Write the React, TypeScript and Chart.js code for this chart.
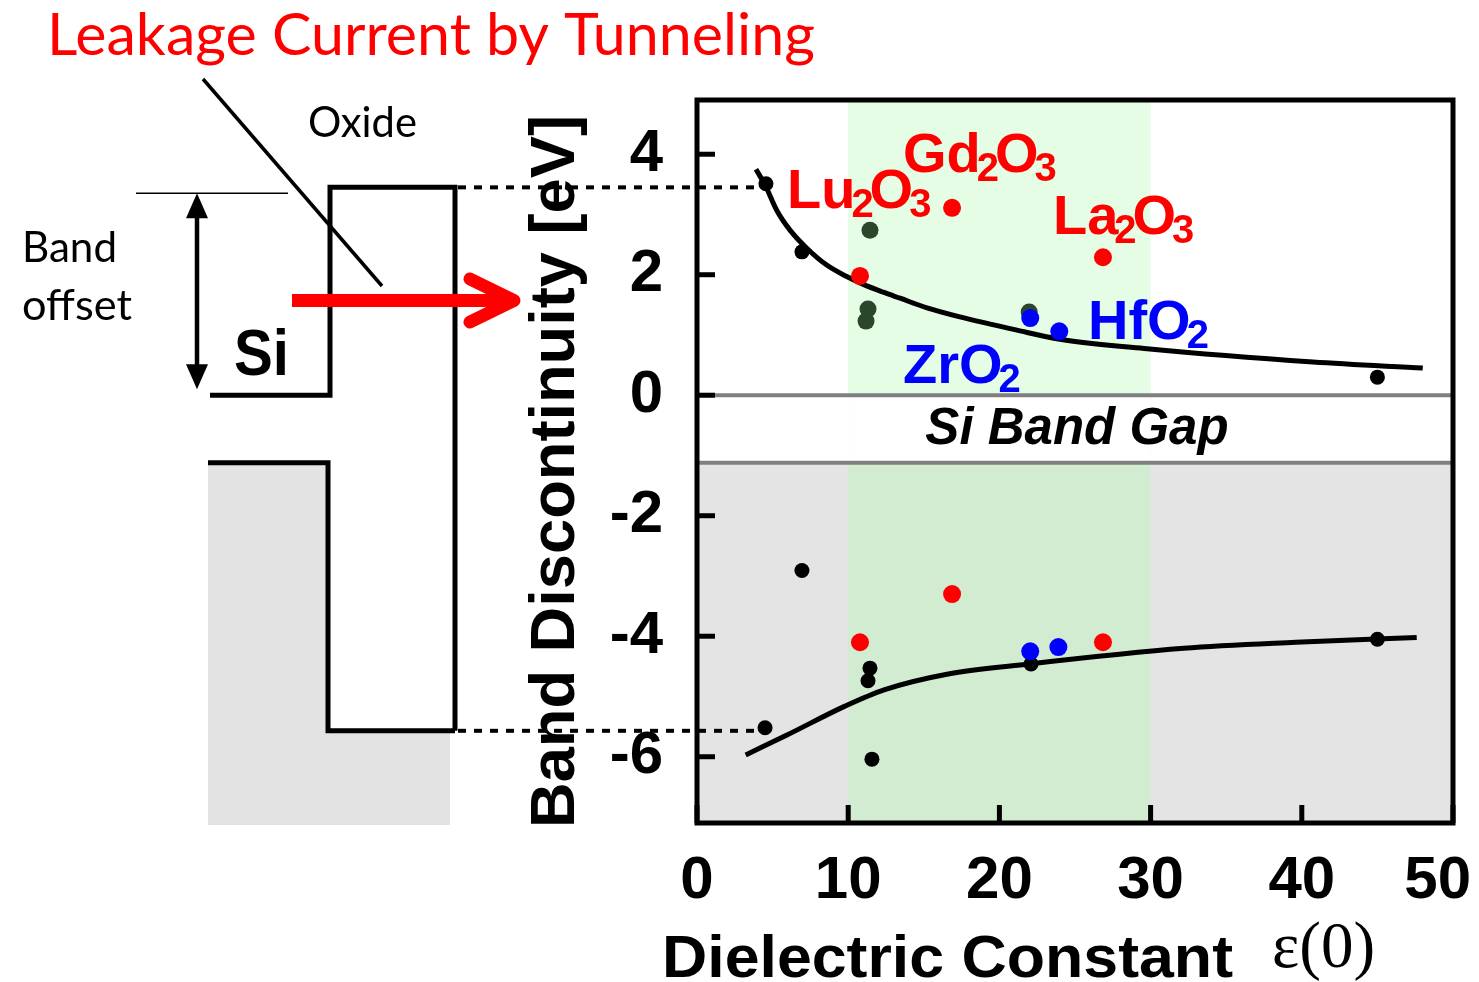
import React, { useEffect, useRef } from "react";
import { Chart, registerables } from "chart.js";

Chart.register(...registerables);

const W = 1479;
const H = 982;
const SANS = '"Liberation Sans", Arial, sans-serif';
const HUMAN = 'Lato, "Open Sans", sans-serif';
const SERIF = '"Liberation Serif", "Times New Roman", serif';

// ---------- data ----------
const xTicks = [0, 10, 20, 30, 40, 50];
const yTicks = [-6, -4, -2, 0, 2, 4];
const xRange = [0, 50];
const yRange = [-7.1, 4.9];

const greenBand = [10, 30]; // high-k window
const siConduction = 0;
const siValence = -1.12;
const oxideConduction = 3.45;
const oxideValence = -5.57;

const blackX = [4.56, 6.94, 45.0, 6.94, 45.0, 11.44, 11.31, 22.09, 4.5, 11.57];
const blackY = [3.51, 2.38, 0.3, -2.91, -4.05, -4.53, -4.74, -4.46, -5.52, -6.04];

const darkGreenX = [11.44, 11.31, 11.18, 21.97];
const darkGreenY = [2.74, 1.43, 1.23, 1.38];

const redX = [10.78, 16.87, 26.85, 16.87, 10.78, 26.85];
const redY = [1.98, 3.11, 2.29, -3.3, -4.1, -4.1];

const blueX = [22.04, 23.96, 22.04, 23.9];
const blueY = [1.28, 1.06, -4.25, -4.18];

const cbCurveX = [3.9, 4.5, 5.27, 6.15, 7.26, 8.58, 9.9, 11.0, 12.32, 13.43, 15.21, 17.39, 21.16, 24.0, 29.76, 40.74, 48.0];
const cbCurveY = [3.75, 3.49, 3.07, 2.74, 2.44, 2.16, 1.97, 1.84, 1.71, 1.61, 1.45, 1.3, 1.08, 0.93, 0.77, 0.55, 0.45];

const vbCurveX = [3.22, 5.95, 9.79, 12.37, 16.53, 21.96, 32.2, 39.6, 47.6];
const vbCurveY = [-5.97, -5.64, -5.16, -4.89, -4.63, -4.46, -4.2, -4.1, -4.02];

const formulaNames = ["Lu2O3", "Gd2O3", "La2O3", "HfO2", "ZrO2"];
const formulaColors = ["#ff0000", "#ff0000", "#ff0000", "#0000ff", "#0000ff"];
const formulaAnchorX = [5.95, 13.62, 23.54, 25.86, 13.62];
const formulaAnchorY = [3.1, 3.71, 2.67, 0.93, 0.2];

const titleText = "Leakage Current by Tunneling";
const xTitle = "Dielectric Constant";
const xTitleSymbol = "ε(0)";
const yTitle = "Band Discontinuity [eV]";
const gapLabel = "Si Band Gap";

const pts = (xs: number[], ys: number[]) => xs.map((x, i) => ({ x, y: ys[i] }));

// ---------- drawing helpers ----------
function fillFit(ctx: CanvasRenderingContext2D, text: string, x: number, y: number, w: number) {
  const m = ctx.measureText(text).width;
  ctx.save();
  ctx.translate(x, y);
  ctx.scale(w / m, 1);
  ctx.textAlign = "left";
  ctx.fillText(text, 0, 0);
  ctx.restore();
}

function line(ctx: CanvasRenderingContext2D, x1: number, y1: number, x2: number, y2: number) {
  ctx.beginPath();
  ctx.moveTo(x1, y1);
  ctx.lineTo(x2, y2);
  ctx.stroke();
}

function drawFormula(ctx: CanvasRenderingContext2D, text: string, x: number, y: number, color: string) {
  ctx.fillStyle = color;
  ctx.textAlign = "left";
  ctx.textBaseline = "alphabetic";
  const parts = text.match(/[A-Za-z]+|\d+/g) || [];
  let cx = x;
  parts.forEach((p) => {
    if (/\d/.test(p)) {
      ctx.font = `bold 40px ${SANS}`;
      cx -= 4;
      ctx.fillText(p, cx, y + 9);
      cx += ctx.measureText(p).width - 4;
    } else {
      ctx.font = `bold 56px ${SANS}`;
      ctx.fillText(p, cx, y);
      cx += ctx.measureText(p).width;
    }
  });
}

const decoPlugin = {
  id: "deco",
  beforeDatasetsDraw(chart: any) {
    const { ctx, chartArea: a, scales } = chart;
    const x = scales.x;
    const y = scales.y;
    ctx.save();
    const gx1 = x.getPixelForValue(greenBand[0]);
    const gx2 = x.getPixelForValue(greenBand[1]);
    const yc = y.getPixelForValue(siConduction);
    const yv = y.getPixelForValue(siValence);
    ctx.fillStyle = "#e4fde4";
    ctx.fillRect(gx1, a.top, gx2 - gx1, yv - a.top);
    ctx.fillStyle = "#e4e4e4";
    ctx.fillRect(a.left, yv, a.right - a.left, a.bottom - yv);
    ctx.fillStyle = "#d2ecd2";
    ctx.fillRect(gx1, yv, gx2 - gx1, a.bottom - yv);
    ctx.fillStyle = "#ffffff";
    ctx.fillRect(gx1, yc, gx2 - gx1, yv - yc);

    ctx.strokeStyle = "#808080";
    ctx.lineWidth = 4;
    line(ctx, a.left, yc, a.right, yc);
    line(ctx, a.left, yv, a.right, yv);

    ctx.fillStyle = "#000";
    ctx.font = `italic bold 51px ${SANS}`;
    ctx.textAlign = "center";
    ctx.textBaseline = "alphabetic";
    ctx.fillText(gapLabel, x.getPixelForValue(25.13), (yc + yv) / 2 + 15);
    ctx.restore();
  },
  afterDatasetsDraw(chart: any) {
    const { ctx, chartArea: a, scales } = chart;
    const x = scales.x;
    const y = scales.y;
    ctx.save();
    ctx.strokeStyle = "#000";
    ctx.lineWidth = 5;
    ctx.strokeRect(a.left, a.top, a.right - a.left, a.bottom - a.top);
    yTicks.forEach((v) => {
      const py = y.getPixelForValue(v);
      line(ctx, a.left, py, a.left + 18, py);
    });
    xTicks.forEach((v) => {
      const px = x.getPixelForValue(v);
      line(ctx, px, a.bottom, px, a.bottom - 18);
    });

    // formula labels
    formulaNames.forEach((n, i) => {
      drawFormula(ctx, n, x.getPixelForValue(formulaAnchorX[i]), y.getPixelForValue(formulaAnchorY[i]), formulaColors[i]);
    });
    ctx.restore();
  },
  afterDraw(chart: any) {
    const { ctx, chartArea: a, scales } = chart;
    const x = scales.x;
    const y = scales.y;
    ctx.save();

    // x tick labels
    ctx.fillStyle = "#000";
    ctx.font = `bold 60px ${SANS}`;
    ctx.textAlign = "center";
    ctx.textBaseline = "alphabetic";
    xTicks.forEach((v) => {
      const label = String(v);
      const w = ctx.measureText(label).width;
      const px = Math.min(x.getPixelForValue(v), W - 8 - w / 2);
      ctx.fillText(label, px, a.bottom + 75);
    });

    // x title
    ctx.font = `bold 60px ${SANS}`;
    fillFit(ctx, xTitle, 662, 977, 571);
    ctx.font = `65px ${SERIF}`;
    ctx.textAlign = "left";
    ctx.fillText(xTitleSymbol, 1272, 967);

    // schematic band diagram
    const yOxT = y.getPixelForValue(oxideConduction);
    const yOxB = y.getPixelForValue(oxideValence);
    const ySiT = y.getPixelForValue(siConduction);
    const ySiB = y.getPixelForValue(siValence);

    ctx.fillStyle = "#e3e3e3";
    ctx.beginPath();
    ctx.moveTo(208, ySiB);
    ctx.lineTo(328, ySiB);
    ctx.lineTo(328, yOxB);
    ctx.lineTo(450, yOxB);
    ctx.lineTo(450, 825);
    ctx.lineTo(208, 825);
    ctx.closePath();
    ctx.fill();

    // dotted lines
    ctx.strokeStyle = "#000";
    ctx.lineWidth = 4;
    ctx.setLineDash([8, 8]);
    line(ctx, 458, yOxT, 760, yOxT);
    line(ctx, 458, yOxB, 760, yOxB);
    ctx.setLineDash([]);

    ctx.lineWidth = 5;
    ctx.lineCap = "butt";
    ctx.beginPath();
    ctx.moveTo(210, ySiT);
    ctx.lineTo(330, ySiT);
    ctx.lineTo(330, yOxT);
    ctx.lineTo(455, yOxT);
    ctx.lineTo(455, yOxB);
    ctx.stroke();
    ctx.beginPath();
    ctx.moveTo(208, ySiB);
    ctx.lineTo(328, ySiB);
    ctx.lineTo(328, yOxB);
    ctx.lineTo(455, yOxB);
    ctx.stroke();

    // band offset double arrow
    const arrTop = yOxT + 6;
    const arrBot = ySiT - 6;
    ctx.lineWidth = 1.5;
    line(ctx, 136, arrTop, 288, arrTop);
    ctx.lineWidth = 4.5;
    line(ctx, 197, arrTop + 20, 197, arrBot - 20);
    ctx.fillStyle = "#000";
    ctx.beginPath();
    ctx.moveTo(197, arrTop);
    ctx.lineTo(186, arrTop + 25);
    ctx.lineTo(208, arrTop + 25);
    ctx.closePath();
    ctx.fill();
    ctx.beginPath();
    ctx.moveTo(197, arrBot);
    ctx.lineTo(186, arrBot - 25);
    ctx.lineTo(208, arrBot - 25);
    ctx.closePath();
    ctx.fill();

    // pointer line from title
    ctx.lineWidth = 3.5;
    line(ctx, 203, 79, 382, 286);

    // red tunnelling arrow
    ctx.strokeStyle = "#ff0000";
    ctx.lineWidth = 13;
    line(ctx, 292, 300.5, 505, 300.5);
    ctx.lineCap = "round";
    ctx.lineJoin = "round";
    ctx.beginPath();
    ctx.moveTo(470, 279);
    ctx.lineTo(514, 300.5);
    ctx.lineTo(470, 322);
    ctx.stroke();
    ctx.lineCap = "butt";
    ctx.lineJoin = "miter";

    // texts
    ctx.fillStyle = "#ff0000";
    ctx.font = `58px ${HUMAN}`;
    ctx.textBaseline = "alphabetic";
    fillFit(ctx, titleText, 47, 55, 768);

    ctx.fillStyle = "#000";
    ctx.font = `43px ${HUMAN}`;
    fillFit(ctx, "Oxide", 308, 137, 109);
    fillFit(ctx, "Band", 22, 262, 95);
    fillFit(ctx, "offset", 22, 320, 110);
    ctx.font = `bold 64px ${SANS}`;
    fillFit(ctx, "Si", 234, 375, 55);

    // y title
    ctx.save();
    ctx.translate(574, 828);
    ctx.rotate(-Math.PI / 2);
    ctx.font = `bold 63px ${SANS}`;
    ctx.fillStyle = "#000";
    fillFit(ctx, yTitle, 0, 0, 713);
    ctx.restore();

    ctx.restore();
  },
};

export default function App() {
  const ref = useRef<HTMLCanvasElement | null>(null);

  useEffect(() => {
    if (!ref.current) return;
    const chart = new Chart(ref.current, {
      type: "scatter",
      data: {
        datasets: [
          {
            type: "line",
            data: pts(cbCurveX, cbCurveY),
            borderColor: "#000",
            borderWidth: 5,
            pointRadius: 0,
            cubicInterpolationMode: "monotone",
            fill: false,
            order: 10,
          } as any,
          {
            type: "line",
            data: pts(vbCurveX, vbCurveY),
            borderColor: "#000",
            borderWidth: 5,
            pointRadius: 0,
            cubicInterpolationMode: "monotone",
            fill: false,
            order: 10,
          } as any,
          {
            data: pts(blackX, blackY),
            backgroundColor: "#000",
            borderWidth: 0,
            pointRadius: 7.5,
            order: 4,
          },
          {
            data: pts(darkGreenX, darkGreenY),
            backgroundColor: "#2b472b",
            borderWidth: 0,
            pointRadius: 8.5,
            order: 3,
          },
          {
            data: pts(redX, redY),
            backgroundColor: "#ff0000",
            borderWidth: 0,
            pointRadius: 9,
            order: 2,
          },
          {
            data: pts(blueX, blueY),
            backgroundColor: "#0000ff",
            borderWidth: 0,
            pointRadius: 9,
            order: 1,
          },
        ],
      },
      options: {
        responsive: false,
        maintainAspectRatio: false,
        devicePixelRatio: 1,
        animation: false,
        layout: { padding: { left: 0, right: 26, top: 100, bottom: 0 } },
        plugins: { legend: { display: false }, tooltip: { enabled: false } },
        scales: {
          x: {
            type: "linear",
            min: xRange[0],
            max: xRange[1],
            grid: { display: false, drawTicks: false },
            border: { display: false },
            ticks: { display: false },
            afterBuildTicks: (s: any) => {
              s.ticks = xTicks.map((v) => ({ value: v }));
            },
            afterFit: (s: any) => {
              s.height = 159;
              s.paddingLeft = 0;
              s.paddingRight = 0;
            },
          },
          y: {
            type: "linear",
            min: yRange[0],
            max: yRange[1],
            grid: { display: false, drawTicks: false },
            border: { display: false },
            ticks: {
              color: "#000",
              padding: 34,
              font: { family: SANS, size: 60, weight: "bold" },
            },
            afterBuildTicks: (s: any) => {
              s.ticks = yTicks.map((v) => ({ value: v }));
            },
            afterFit: (s: any) => {
              s.width = 697;
              s.paddingTop = 0;
              s.paddingBottom = 0;
            },
          },
        },
      } as any,
      plugins: [decoPlugin],
    });
    return () => chart.destroy();
  }, []);

  return (
    <div style={{ position: "fixed", left: 0, top: 0, width: W, height: H, background: "#fff" }}>
      <canvas ref={ref} width={W} height={H} style={{ display: "block", width: W, height: H }} />
    </div>
  );
}
